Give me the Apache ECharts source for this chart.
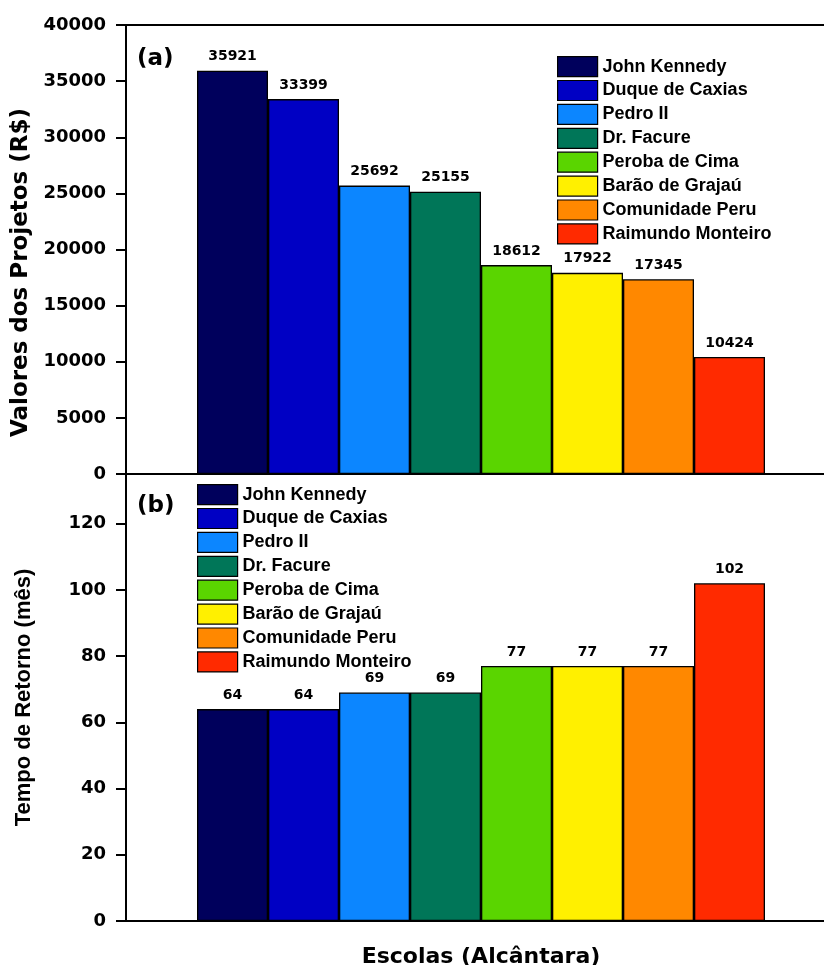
<!DOCTYPE html>
<html>
<head>
<meta charset="utf-8">
<script src="https://cdn.jsdelivr.net/npm/echarts@6/dist/echarts.min.js"></script>
<style>
html,body{margin:0;padding:0;background:#fff;}
#chart{width:824px;height:965px;}
</style>
</head>
<body>
<div id="chart"></div>
<script>
var schools = ['John Kennedy','Duque de Caxias','Pedro II','Dr. Facure','Peroba de Cima','Barão de Grajaú','Comunidade Peru','Raimundo Monteiro'];
var projectValues = [35921, 33399, 25692, 25155, 18612, 17922, 17345, 10424];
var paybackMonths = [64, 64, 69, 69, 77, 77, 77, 102];
var colors = ['#00005C','#0000C4','#0C86FF','#007658','#5AD500','#FFF000','#FF8800','#FF2A00'];
var topTicks = [0,5000,10000,15000,20000,25000,30000,35000,40000];
var bottomTicks = [0,20,40,60,80,100,120];

var cats = [''].concat(schools).concat([' ']);
var numFont = 'DejaVu Sans';
var series = [];
function build(values, gridIdx) {
  schools.forEach(function(name, i){
    var d = cats.map(function(){ return '-'; });
    d[i+1] = values[i];
    series.push({
      type:'bar', name:name, xAxisIndex:gridIdx, yAxisIndex:gridIdx,
      data:d, barWidth:'100%', barGap:'-100%',
      itemStyle:{color:colors[i], borderColor:'#000', borderWidth:1.3},
      label:{show:true, position:'top', distance:7, color:'#000',
        fontFamily:numFont, fontWeight:'bold', fontSize:14},
      emphasis:{disabled:true}, animation:false
    });
  });
}
build(projectValues, 0);
build(paybackMonths, 1);

var tickLabel = {color:'#000', fontFamily:numFont, fontWeight:'bold', fontSize:18, margin:20};
var legendBase = {
  orient:'vertical', padding:0, itemWidth:40, itemHeight:20, itemGap:2.7,
  icon:'rect', data:schools, selectedMode:false,
  itemStyle:{borderColor:'#000', borderWidth:1.2},
  textStyle:{color:'#000', fontFamily:'Liberation Sans', fontWeight:'bold', fontSize:18}
};

var chart = echarts.init(document.getElementById('chart'), null, {renderer:'canvas'});
chart.setOption({
  backgroundColor:'#fff',
  animation:false,
  grid:[
    {left:126, width:710, top:25, height:449, containLabel:false, outerBoundsMode:'none',
     show:true, borderColor:'#000', borderWidth:2, backgroundColor:'transparent'},
    {left:126, width:710, top:474, height:447, containLabel:false, outerBoundsMode:'none',
     show:true, borderColor:'#000', borderWidth:2, backgroundColor:'transparent'}
  ],
  xAxis:[
    {type:'category', gridIndex:0, data:cats, boundaryGap:true,
     axisLine:{lineStyle:{color:'#000', width:2}}, axisTick:{show:false}, axisLabel:{show:false}},
    {type:'category', gridIndex:1, data:cats, boundaryGap:true,
     name:'Escolas (Alcântara)', nameLocation:'middle', nameGap:25,
     nameTextStyle:{color:'#000', fontFamily:numFont, fontWeight:'bold', fontSize:22},
     axisLine:{lineStyle:{color:'#000', width:2}}, axisTick:{show:false}, axisLabel:{show:false}}
  ],
  yAxis:[
    {type:'value', gridIndex:0, min:0, max:40000, interval:5000,
     name:'Valores dos Projetos (R$)', nameLocation:'middle', nameGap:91,
     nameTextStyle:{color:'#000', fontFamily:numFont, fontWeight:'bold', fontSize:23, padding:[0,46,0,0]},
     axisLine:{show:true, lineStyle:{color:'#000', width:2}},
     axisTick:{show:true, length:10, lineStyle:{color:'#000', width:2}},
     splitLine:{show:false},
     axisLabel:Object.assign({}, tickLabel, {formatter:function(v){ return topTicks.indexOf(v) >= 0 ? String(v) : ''; }})},
    {type:'value', gridIndex:1, min:0, max:135, interval:20,
     name:'Tempo de Retorno (mês)', nameLocation:'middle', nameGap:91,
     nameTextStyle:{color:'#000', fontFamily:'Liberation Sans', fontWeight:'bold', fontSize:22},
     axisLine:{show:true, lineStyle:{color:'#000', width:2}},
     axisTick:{show:true, length:10, lineStyle:{color:'#000', width:2}},
     splitLine:{show:false},
     axisLabel:Object.assign({}, tickLabel, {formatter:function(v){ return bottomTicks.indexOf(v) >= 0 ? String(v) : ''; }})}
  ],
  legend:[
    Object.assign({}, legendBase, {left:557, top:56}),
    Object.assign({}, legendBase, {left:197, top:484})
  ],
  graphic:[
    {type:'text', left:137, top:48, style:{text:'(a)', fill:'#000', font:'bold 23px "DejaVu Sans"'}},
    {type:'text', left:137, top:495, style:{text:'(b)', fill:'#000', font:'bold 23px "DejaVu Sans"'}}
  ],
  series:series
});
</script>
</body>
</html>
